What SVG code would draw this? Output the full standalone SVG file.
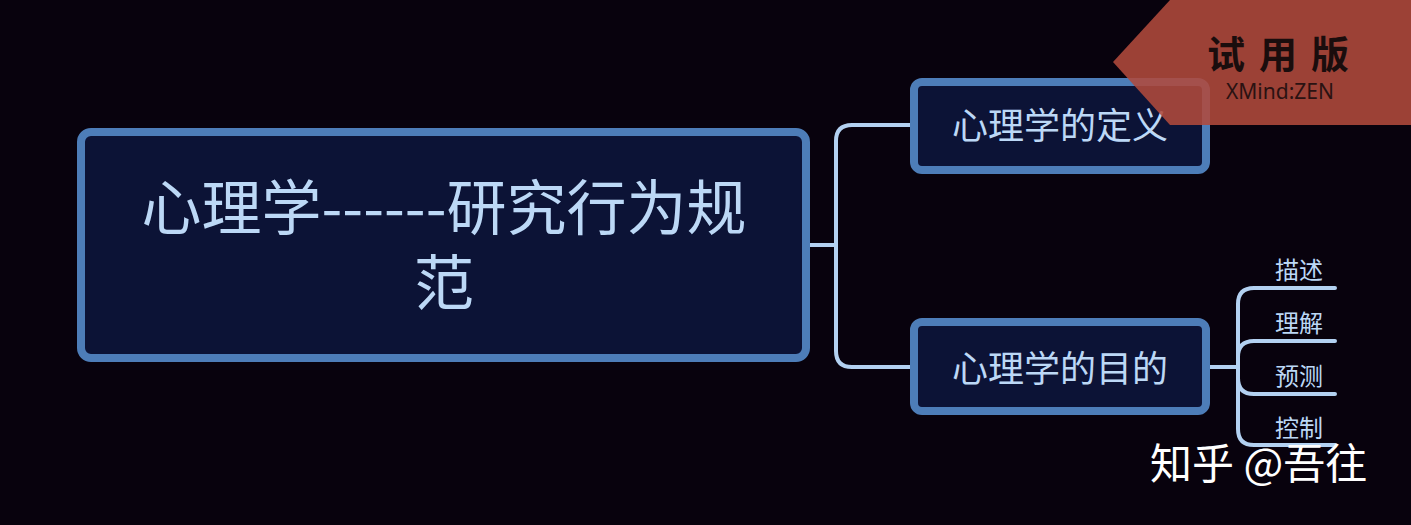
<svg xmlns="http://www.w3.org/2000/svg" width="1411" height="525" viewBox="0 0 1411 525">
<style>
.node{fill:#0c1336;stroke:#4d7db8;stroke-width:8}
.t{font-family:"Noto Sans CJK SC","Noto Sans",sans-serif;fill:#bcd8f6;text-anchor:middle}
.c{fill:none;stroke:#b3d1f1;stroke-width:4;stroke-linecap:round}
</style>
<rect width="1411" height="525" fill="#08020d"/>
<g id="connectors">
<path class="c" d="M808 245 H836 M912 125 H852 Q836 125 836 141 V351 Q836 367 852 367 H912"/>
<path class="c" d="M1208 367 H1238 M1335 288 H1254 Q1238 288 1238 304 V429 Q1238 445 1254 445 H1335 M1335 341 H1254 Q1238 341 1238 357 M1335 394 H1254 Q1238 394 1238 378"/>
</g>
<g id="central">
<rect class="node" x="81" y="132" width="725" height="226" rx="10"/>
<text class="t" x="444" y="230" font-size="60">心理学------研究行为规</text>
<text class="t" x="444" y="305" font-size="60">范</text>
</g>
<g id="n1">
<rect class="node" x="914" y="82" width="292" height="88" rx="8"/>
<text class="t" x="1060" y="139" font-size="36">心理学的定义</text>
</g>
<g id="n2">
<rect class="node" x="914" y="322" width="292" height="89" rx="8"/>
<text class="t" x="1060" y="382" font-size="36">心理学的目的</text>
</g>
<g id="leaves">
<text class="t" x="1299" y="279" font-size="24">描述</text>
<text class="t" x="1299" y="332" font-size="24">理解</text>
<text class="t" x="1299" y="385" font-size="24">预测</text>
<text class="t" x="1299" y="437" font-size="24">控制</text>
</g>
<g id="watermark">
<polygon points="1170,0 1411,0 1411,125 1170,125 1113,62" fill="#b04a3c" opacity="0.88"/>
<text x="1207" y="68" font-family="Noto Sans CJK SC,sans-serif" font-weight="bold" font-size="38" letter-spacing="14" fill="#1a0d0d">试用版</text>
<text x="1280" y="99" font-family="Noto Sans,sans-serif" font-size="21" fill="#2a1212" text-anchor="middle">XMind:ZEN</text>
</g>
<text x="1150" y="479" font-family="Noto Sans CJK SC,sans-serif" font-size="42" fill="#ffffff">知乎 @吾往</text>
</svg>
